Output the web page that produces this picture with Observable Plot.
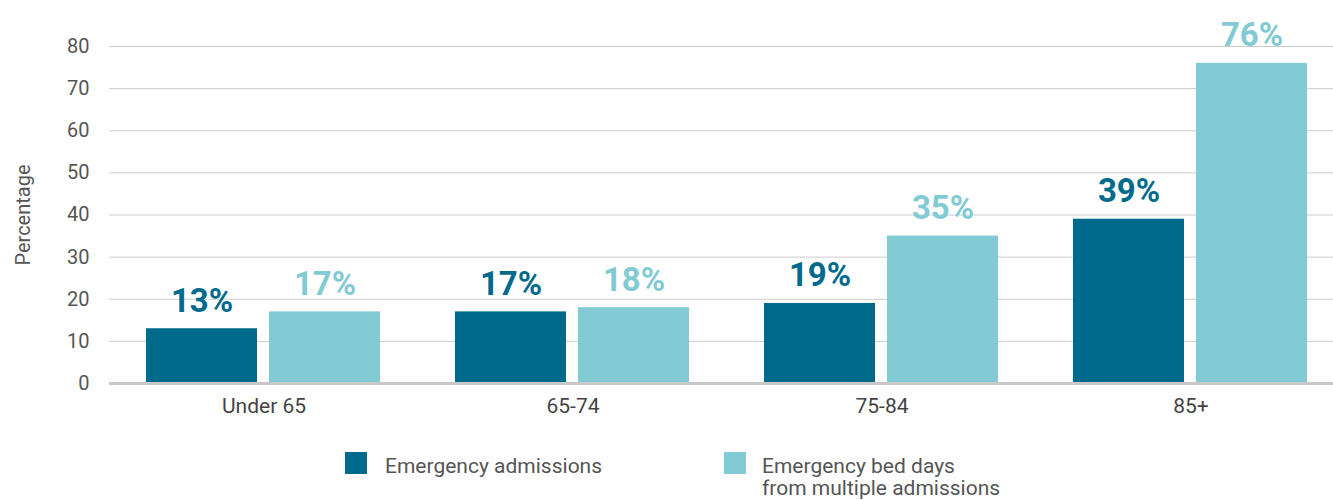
<!DOCTYPE html>
<html><head><meta charset="utf-8">
<script src="https://cdn.jsdelivr.net/npm/d3@7"></script>
<script src="https://cdn.jsdelivr.net/npm/@observablehq/plot@0.6"></script>
<style>
body{margin:0;overflow:hidden;background:#fff;font-family:Roboto, sans-serif;}
#wrap{position:relative;width:1333px;height:500px;overflow:hidden;}
#chart{width:1345px;}
.legend{position:absolute;top:452px;left:0;width:1333px;height:48px;}
.item{position:absolute;top:0;display:flex;align-items:flex-start;color:#555;font-size:21px;line-height:22px;}
.item .sw{width:22px;height:22px;flex:none;}
.item .lab{position:relative;top:3px;}
</style></head><body>
<div id="wrap"><div id="chart"></div><div class="legend" id="legend"></div></div>
<script>
const groups = ["Under 65", "65-74", "75-84", "85+"];
const seriesNames = ["Emergency admissions", "Emergency bed days from multiple admissions"];
const admissions = [13, 17, 19, 39];
const bedDays = [17, 18, 35, 76];
const seriesColors = ["#006a8c", "#83cbd4"];
const yTicks = [0, 10, 20, 30, 40, 50, 60, 70, 80];

const data = groups.flatMap((g, i) => [
  {group: g, series: seriesNames[0], value: admissions[i]},
  {group: g, series: seriesNames[1], value: bedDays[i]}
]);

const chart = Plot.plot({
  width: 1345,
  height: 440,
  marginLeft: 108,
  marginRight: 0,
  marginTop: 46,
  marginBottom: 57,
  style: {fontFamily: "Roboto, sans-serif", background: "#fff", maxWidth: "none"},
  fx: {domain: groups, padding: 0, label: null},
  x: {domain: seriesNames, paddingInner: 0.097, paddingOuter: 0.2945, axis: null},
  y: {domain: [0, 80], label: null},
  color: {domain: seriesNames, range: seriesColors},
  marks: [
    Plot.gridY({ticks: yTicks.slice(1), stroke: "#cccccc", strokeOpacity: 1, strokeWidth: 1}),
    Plot.barY(data, {fx: "group", x: "series", y: "value", fill: "series"}),
    Plot.ruleY([0], {stroke: "#c8c8c8", strokeWidth: 3}),
    Plot.text(data, {fx: "group", x: "series", y: "value", text: d => d.value + "%", fill: "series",
      fontSize: 33, fontWeight: "bold", lineAnchor: "bottom", dy: -17}),
    Plot.axisY({ticks: yTicks, tickSize: 0, tickPadding: 20, fontSize: 20, color: "#555",
      label: "Percentage", labelAnchor: "center", labelArrow: "none", labelOffset: 94}),
    Plot.axisFx({anchor: "bottom", tickSize: 0, tickPadding: 15, fontSize: 21, color: "#444", label: null})
  ]
});
document.getElementById("chart").appendChild(chart);

const legend = document.getElementById("legend");
const legendLabels = [["Emergency admissions"], ["Emergency bed days", "from multiple admissions"]];
const legendLeft = [345, 724];
seriesNames.forEach((s, i) => {
  const item = document.createElement("div");
  item.className = "item";
  item.style.left = legendLeft[i] + "px";
  const sw = document.createElement("div");
  sw.className = "sw";
  sw.style.background = seriesColors[i];
  sw.style.marginRight = (i === 0 ? 18 : 16) + "px";
  const lab = document.createElement("div");
  lab.className = "lab";
  lab.innerHTML = legendLabels[i].join("<br>");
  item.appendChild(sw);
  item.appendChild(lab);
  legend.appendChild(item);
});
</script>
</body></html>
